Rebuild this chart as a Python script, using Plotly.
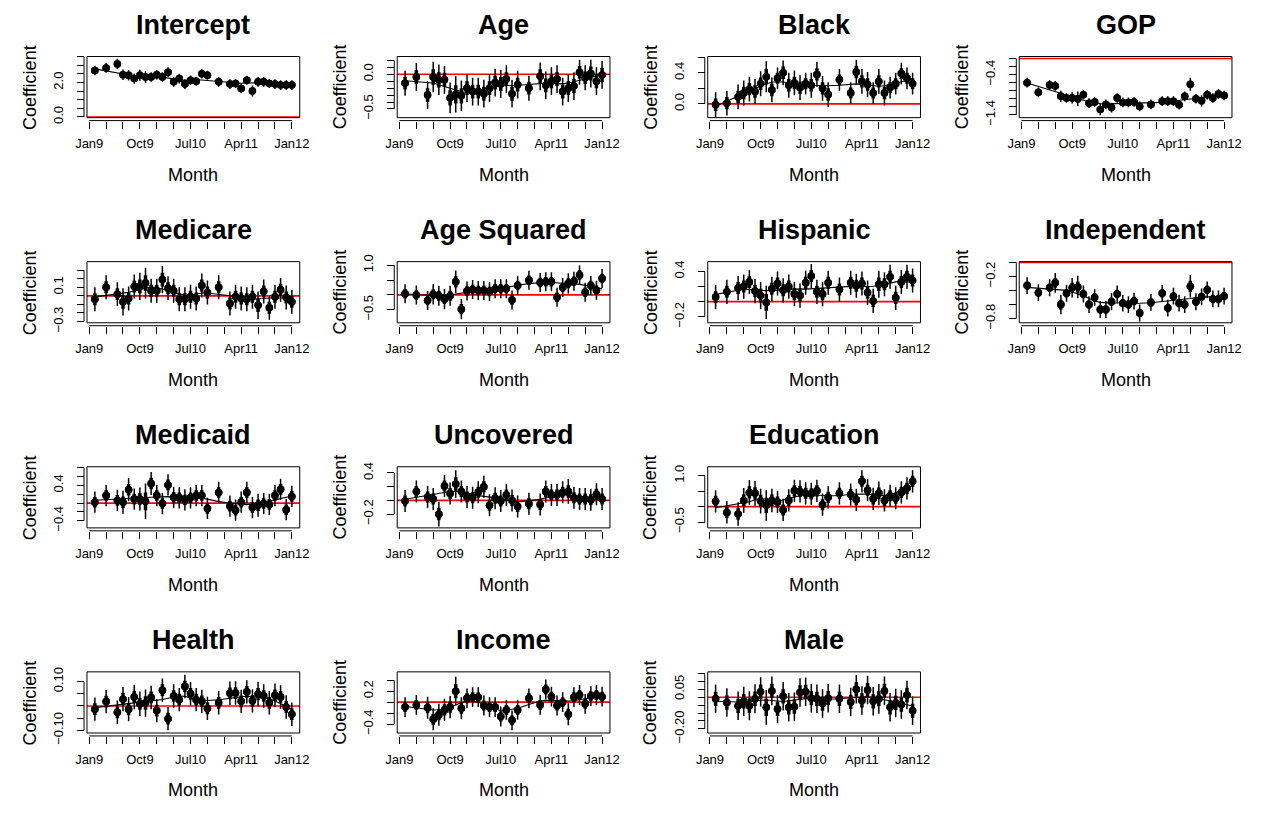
import numpy as np
import plotly.graph_objects as go

# ---------------------------------------------------------------- data
months = ["2009-02", "2009-04", "2009-06", "2009-07", "2009-08", "2009-09",
          "2009-10", "2009-11", "2009-12", "2010-01", "2010-02", "2010-03",
          "2010-04", "2010-05", "2010-06", "2010-07", "2010-08", "2010-09",
          "2010-10", "2010-12", "2011-02", "2011-03", "2011-04", "2011-05",
          "2011-06", "2011-07", "2011-08", "2011-09", "2011-10", "2011-11",
          "2011-12", "2012-01"]

x_tick_months = ["2009-01", "2009-04", "2009-07", "2009-10", "2010-01", "2010-04",
                 "2010-07", "2010-10", "2011-01", "2011-04", "2011-07", "2011-10",
                 "2012-01"]
x_tick_text = ["Jan9", "", "", "Oct9", "", "", "Jul10", "", "", "Apr11", "", "", "Jan12"]

intercept_coef = [2.70, 2.85, 3.08, 2.45, 2.42, 2.23, 2.42, 2.32, 2.32, 2.45, 2.32, 2.60,
                  2.04, 2.23, 1.91, 2.13, 2.08, 2.51, 2.42, 2.04, 1.91, 1.94, 1.66, 2.13,
                  1.51, 2.04, 2.04, 1.94, 1.91, 1.85, 1.85, 1.85]
intercept_se = [0.14, 0.14, 0.15, 0.15, 0.15, 0.15, 0.16, 0.17, 0.14, 0.14, 0.14, 0.14,
                0.14, 0.14, 0.14, 0.14, 0.13, 0.14, 0.13, 0.14, 0.14, 0.13, 0.14, 0.13,
                0.16, 0.14, 0.14, 0.13, 0.14, 0.14, 0.14, 0.14]

age_coef = [-0.13, -0.04, -0.30, -0.04, -0.08, -0.08, -0.34, -0.29, -0.31, -0.20, -0.25, -0.25,
            -0.28, -0.20, -0.12, -0.14, -0.07, -0.28, -0.15, -0.20, -0.03, -0.16, -0.10, -0.07,
            -0.25, -0.20, -0.17, 0.03, -0.05, 0.01, -0.10, -0.01]
age_se = [0.09, 0.10, 0.10, 0.11, 0.11, 0.10, 0.11, 0.13, 0.11, 0.10, 0.10, 0.10,
          0.10, 0.10, 0.10, 0.10, 0.10, 0.10, 0.10, 0.09, 0.10, 0.10, 0.10, 0.10,
          0.10, 0.10, 0.10, 0.09, 0.09, 0.10, 0.10, 0.10]

black_coef = [-0.01, 0.01, 0.09, 0.14, 0.19, 0.16, 0.26, 0.35, 0.18, 0.33, 0.40, 0.24,
              0.27, 0.21, 0.26, 0.24, 0.38, 0.20, 0.12, 0.31, 0.14, 0.41, 0.29, 0.25,
              0.14, 0.29, 0.14, 0.21, 0.26, 0.39, 0.33, 0.26]
black_se = [0.08, 0.08, 0.08, 0.08, 0.08, 0.08, 0.08, 0.10, 0.08, 0.07, 0.08, 0.08,
            0.08, 0.08, 0.07, 0.08, 0.08, 0.08, 0.08, 0.07, 0.07, 0.08, 0.08, 0.08,
            0.07, 0.08, 0.08, 0.07, 0.07, 0.07, 0.07, 0.07]

gop_coef = [-0.60, -0.84, -0.66, -0.68, -0.94, -0.98, -0.98, -1.00, -0.90, -1.11, -1.08, -1.27,
            -1.14, -1.22, -0.98, -1.09, -1.09, -1.08, -1.19, -1.14, -1.06, -1.06, -1.06, -1.15,
            -0.94, -0.64, -1.00, -1.05, -0.90, -0.98, -0.88, -0.92]
gop_se = [0.06, 0.06, 0.06, 0.06, 0.07, 0.06, 0.07, 0.09, 0.06, 0.06, 0.06, 0.07,
          0.06, 0.06, 0.06, 0.06, 0.06, 0.06, 0.06, 0.06, 0.06, 0.06, 0.06, 0.06,
          0.06, 0.08, 0.06, 0.07, 0.06, 0.06, 0.06, 0.06]

medicare_coef = [-0.04, 0.10, 0.02, -0.07, -0.03, 0.11, 0.11, 0.15, 0.06, 0.06, 0.19, 0.09,
                 0.06, -0.04, -0.04, -0.01, -0.03, 0.12, 0.04, 0.10, -0.09, -0.01, -0.03, -0.04,
                 -0.01, -0.11, 0.05, -0.14, -0.01, 0.07, -0.02, -0.07]
medicare_se = [0.07, 0.07, 0.07, 0.08, 0.07, 0.07, 0.08, 0.09, 0.07, 0.07, 0.08, 0.07,
               0.07, 0.07, 0.07, 0.07, 0.07, 0.07, 0.07, 0.07, 0.07, 0.07, 0.07, 0.07,
               0.07, 0.08, 0.07, 0.07, 0.07, 0.07, 0.07, 0.07]

age_sq_coef = [0.04, 0.00, -0.19, 0.02, -0.03, -0.14, -0.03, 0.44, -0.48, 0.13, 0.18, 0.15,
               0.15, 0.11, 0.21, 0.21, 0.21, -0.17, 0.32, 0.49, 0.42, 0.44, 0.44, -0.08,
               0.25, 0.39, 0.46, 0.67, 0.09, 0.32, 0.16, 0.55]
age_sq_se = [0.16, 0.16, 0.16, 0.17, 0.17, 0.17, 0.17, 0.19, 0.17, 0.16, 0.16, 0.16,
             0.16, 0.16, 0.16, 0.16, 0.16, 0.16, 0.16, 0.16, 0.16, 0.16, 0.16, 0.16,
             0.16, 0.17, 0.16, 0.16, 0.16, 0.16, 0.16, 0.16]

hispanic_coef = [0.06, 0.13, 0.18, 0.20, 0.26, 0.14, 0.08, -0.01, 0.17, 0.24, 0.15, 0.20,
                 0.10, 0.08, 0.25, 0.34, 0.13, 0.10, 0.25, 0.16, 0.25, 0.21, 0.24, 0.12,
                 0.01, 0.23, 0.23, 0.33, 0.05, 0.26, 0.33, 0.28]
hispanic_se = [0.08, 0.08, 0.08, 0.08, 0.08, 0.08, 0.09, 0.11, 0.08, 0.08, 0.08, 0.08,
               0.08, 0.08, 0.08, 0.08, 0.08, 0.08, 0.08, 0.08, 0.08, 0.08, 0.08, 0.08,
               0.08, 0.09, 0.08, 0.08, 0.08, 0.08, 0.08, 0.08]

independent_coef = [-0.33, -0.43, -0.36, -0.29, -0.60, -0.44, -0.36, -0.35, -0.45, -0.60, -0.50, -0.67,
                    -0.67, -0.56, -0.45, -0.58, -0.60, -0.55, -0.72, -0.57, -0.44, -0.65, -0.48, -0.58,
                    -0.60, -0.34, -0.56, -0.49, -0.39, -0.52, -0.52, -0.48]
independent_se = [0.06, 0.06, 0.06, 0.07, 0.07, 0.06, 0.07, 0.08, 0.06, 0.06, 0.06, 0.06,
                  0.06, 0.06, 0.06, 0.06, 0.06, 0.06, 0.06, 0.06, 0.06, 0.06, 0.06, 0.06,
                  0.06, 0.08, 0.06, 0.06, 0.06, 0.06, 0.06, 0.06]

medicaid_coef = [0.02, 0.17, 0.06, 0.02, 0.30, 0.09, 0.09, 0.04, 0.44, 0.17, -0.01, 0.41,
                 0.13, 0.12, 0.07, 0.12, 0.17, 0.17, -0.12, 0.24, -0.07, -0.16, 0.02, 0.24,
                 -0.10, -0.05, -0.01, -0.03, 0.17, 0.31, -0.15, 0.15]
medicaid_se = [0.12, 0.12, 0.12, 0.13, 0.13, 0.12, 0.13, 0.20, 0.13, 0.12, 0.12, 0.12,
               0.12, 0.12, 0.12, 0.12, 0.12, 0.12, 0.12, 0.12, 0.12, 0.12, 0.12, 0.12,
               0.12, 0.13, 0.12, 0.12, 0.12, 0.12, 0.12, 0.12]

uncovered_coef = [-0.01, 0.13, 0.05, 0.02, -0.20, 0.21, 0.10, 0.24, 0.13, 0.05, 0.04, 0.12,
                  0.20, -0.07, 0.03, -0.01, 0.08, 0.00, -0.09, -0.05, -0.06, 0.13, 0.08, 0.08,
                  0.12, 0.13, 0.04, 0.02, 0.02, 0.01, 0.09, 0.02]
uncovered_se = [0.08, 0.08, 0.08, 0.08, 0.09, 0.08, 0.08, 0.10, 0.08, 0.08, 0.08, 0.08,
                0.08, 0.08, 0.08, 0.08, 0.08, 0.08, 0.08, 0.08, 0.08, 0.08, 0.08, 0.08,
                0.08, 0.09, 0.08, 0.08, 0.08, 0.08, 0.08, 0.08]

education_coef = [0.17, -0.19, -0.24, 0.20, 0.46, 0.43, 0.18, 0.04, 0.20, 0.15, -0.11, 0.20,
                  0.51, 0.49, 0.43, 0.41, 0.51, 0.06, 0.30, 0.43, 0.39, 0.22, 0.82, 0.53,
                  0.25, 0.43, 0.20, 0.35, 0.27, 0.46, 0.59, 0.82]
education_se = [0.18, 0.18, 0.19, 0.20, 0.20, 0.20, 0.20, 0.25, 0.19, 0.18, 0.18, 0.18,
                0.18, 0.18, 0.18, 0.18, 0.18, 0.18, 0.18, 0.18, 0.18, 0.18, 0.18, 0.18,
                0.18, 0.19, 0.18, 0.18, 0.18, 0.18, 0.18, 0.18]

health_coef = [-0.013, 0.018, -0.026, 0.028, -0.013, 0.037, 0.009, 0.012, 0.035, -0.019, 0.065, -0.052,
               0.041, 0.026, 0.080, 0.050, 0.026, 0.019, -0.010, 0.013, 0.052, 0.053, 0.019, 0.058,
               0.021, 0.049, 0.041, 0.013, 0.044, 0.037, -0.004, -0.034]
health_se = [0.024, 0.024, 0.024, 0.025, 0.025, 0.025, 0.025, 0.028, 0.024, 0.024, 0.024, 0.024,
             0.024, 0.024, 0.024, 0.024, 0.024, 0.024, 0.024, 0.024, 0.024, 0.024, 0.024, 0.024,
             0.024, 0.025, 0.024, 0.024, 0.024, 0.024, 0.024, 0.024]

income_coef = [-0.09, -0.05, -0.10, -0.31, -0.23, -0.14, -0.09, 0.20, -0.11, 0.07, 0.09, 0.09,
               -0.06, -0.09, -0.09, -0.26, -0.14, -0.33, -0.14, 0.07, -0.05, 0.23, 0.10, -0.06,
               0.00, -0.22, 0.09, 0.13, -0.03, 0.11, 0.13, 0.10]
income_se = [0.09, 0.09, 0.10, 0.10, 0.10, 0.10, 0.10, 0.13, 0.10, 0.09, 0.09, 0.09,
             0.09, 0.09, 0.09, 0.09, 0.09, 0.09, 0.09, 0.09, 0.09, 0.09, 0.09, 0.09,
             0.09, 0.10, 0.09, 0.09, 0.09, 0.09, 0.09, 0.09]

male_coef = [-0.010, -0.034, -0.054, -0.026, -0.054, -0.010, 0.034, -0.064, 0.040, -0.074, 0.006, -0.064,
             -0.060, 0.030, 0.034, -0.006, -0.010, -0.040, -0.006, -0.010, -0.030, 0.050, -0.020, 0.046,
             -0.026, -0.010, 0.040, -0.064, -0.036, -0.046, 0.014, -0.086]
male_se = [0.045, 0.045, 0.045, 0.046, 0.046, 0.046, 0.046, 0.055, 0.045, 0.045, 0.045, 0.045,
           0.045, 0.045, 0.045, 0.045, 0.045, 0.045, 0.045, 0.045, 0.045, 0.045, 0.045, 0.045,
           0.045, 0.047, 0.045, 0.045, 0.045, 0.045, 0.045, 0.045]

# y-axis ticks: positions and the labels that are printed
intercept_ticks = [0.0, 0.5, 1.0, 1.5, 2.0, 2.5, 3.0, 3.5]
intercept_ticklabels = ["0.0", "", "", "", "2.0", "", "", ""]
age_ticks = [-0.5, -0.4, -0.3, -0.2, -0.1, 0.0, 0.1, 0.2]
age_ticklabels = ["\u22120.5", "", "", "", "", "0.0", "", ""]
black_ticks = [0.0, 0.2, 0.4, 0.6]
black_ticklabels = ["0.0", "", "0.4", ""]
gop_ticks = [-1.4, -1.2, -1.0, -0.8, -0.6, -0.4, -0.2, 0.0]
gop_ticklabels = ["\u22121.4", "", "", "", "", "\u22120.4", "", ""]
medicare_ticks = [-0.3, -0.2, -0.1, 0.0, 0.1, 0.2, 0.3]
medicare_ticklabels = ["\u22120.3", "", "", "", "0.1", "", ""]
age_sq_ticks = [-0.5, 0.0, 0.5, 1.0]
age_sq_ticklabels = ["\u22120.5", "", "", "1.0"]
hispanic_ticks = [-0.2, 0.0, 0.2, 0.4]
hispanic_ticklabels = ["\u22120.2", "", "", "0.4"]
independent_ticks = [-0.8, -0.6, -0.4, -0.2, 0.0]
independent_ticklabels = ["\u22120.8", "", "", "\u22120.2", ""]
medicaid_ticks = [-0.4, -0.2, 0.0, 0.2, 0.4, 0.6, 0.8]
medicaid_ticklabels = ["\u22120.4", "", "", "", "0.4", "", ""]
uncovered_ticks = [-0.2, 0.0, 0.2, 0.4]
uncovered_ticklabels = ["\u22120.2", "", "", "0.4"]
education_ticks = [-0.5, 0.0, 0.5, 1.0]
education_ticklabels = ["\u22120.5", "", "", "1.0"]
health_ticks = [-0.10, -0.05, 0.0, 0.05, 0.10]
health_ticklabels = ["\u22120.10", "", "", "", "0.10"]
income_ticks = [-0.4, -0.2, 0.0, 0.2, 0.4]
income_ticklabels = ["\u22120.4", "", "", "0.2", ""]
male_ticks = [-0.20, -0.15, -0.10, -0.05, 0.0, 0.05, 0.10, 0.15]
male_ticklabels = ["\u22120.20", "", "", "", "", "0.05", "", ""]

# -------------------------------------------------------------- layout
W, H = 1269, 817
COL_LEFT = [76.3, 392.0, 708.0, 1025.0]
BOX_W = 216.5
ROW_STEP = 210.0
BOX_TOP0 = 50.7
BOX_H = 62.6
AXIS_GAP = 3.0
FONT = "Liberation Sans, Arial, Helvetica, sans-serif"

panels = [
    ("Intercept", intercept_coef, intercept_se, intercept_ticks, intercept_ticklabels, (-0.04, 3.51), 0, 0),
    ("Age", age_coef, age_se, age_ticks, age_ticklabels, (-0.625, 0.255), 0, 1),
    ("Black", black_coef, black_se, black_ticks, black_ticklabels, (-0.177, 0.61), 0, 2),
    ("GOP", gop_coef, gop_se, gop_ticks, gop_ticklabels, (-1.47, 0.05), 0, 3),
    ("Medicare", medicare_coef, medicare_se, medicare_ticks, medicare_ticklabels, (-0.315, 0.40), 1, 0),
    ("Age Squared", age_sq_coef, age_sq_se, age_sq_ticks, age_sq_ticklabels, (-0.94, 1.12), 1, 1),
    ("Hispanic", hispanic_coef, hispanic_se, hispanic_ticks, hispanic_ticklabels, (-0.28, 0.53), 1, 2),
    ("Independent", independent_coef, independent_se, independent_ticks, independent_ticklabels, (-0.86, 0.012), 1, 3),
    ("Medicaid", medicaid_coef, medicaid_se, medicaid_ticks, medicaid_ticklabels, (-0.56, 0.82), 2, 0),
    ("Uncovered", uncovered_coef, uncovered_se, uncovered_ticks, uncovered_ticklabels, (-0.40, 0.49), 2, 1),
    ("Education", education_coef, education_se, education_ticks, education_ticklabels, (-0.69, 1.29), 2, 2),
    ("Health", health_coef, health_se, health_ticks, health_ticklabels, (-0.111, 0.14), 3, 0),
    ("Income", income_coef, income_se, income_ticks, income_ticklabels, (-0.56, 0.55), 3, 1),
    ("Male", male_coef, male_se, male_ticks, male_ticklabels, (-0.226, 0.16), 3, 2),
]


def month_index(label):
    year, month = label.split("-")
    return (int(year) - 2009) * 12 + int(month) - 1


def lowess(x, y, f=0.3, iters=3):
    """Robust locally weighted linear regression (Cleveland's LOWESS)."""
    x = np.asarray(x, float)
    y = np.asarray(y, float)
    n = len(x)
    r = max(min(int(np.ceil(f * n)), n), 2)
    robust = np.ones(n)
    fitted = np.zeros(n)
    for _ in range(iters + 1):
        for i in range(n):
            d = np.abs(x - x[i])
            h = max(np.sort(d)[r - 1], 1e-12)
            w = np.clip(d / h, 0, 1)
            w = (1 - w ** 3) ** 3 * robust
            sw = w.sum()
            xm_ = (w * x).sum() / sw
            ym_ = (w * y).sum() / sw
            sxx = (w * (x - xm_) ** 2).sum()
            b = (w * (x - xm_) * (y - ym_)).sum() / sxx if sxx > 1e-12 else 0.0
            fitted[i] = ym_ + b * (x[i] - xm_)
        res = y - fitted
        s = np.median(np.abs(res))
        if s == 0:
            break
        u = np.clip(res / (6 * s), -1, 1)
        robust = (1 - u ** 2) ** 2
    return fitted


xm = [month_index(m) for m in months]
x_tick_vals = [month_index(m) for m in x_tick_months]
x_pad = 0.04 * (max(xm) - min(xm))
x_range = [min(xm) - x_pad, max(xm) + x_pad]

fig = go.Figure()
layout = dict(
    width=W, height=H, margin=dict(l=0, r=0, t=0, b=0),
    paper_bgcolor="white", plot_bgcolor="white", showlegend=False,
    font=dict(family=FONT, color="black"),
)
shapes, annotations = [], []

for k, (title, coef, se, yt, ytl, yr, row, col) in enumerate(panels, start=1):
    sfx = "" if k == 1 else str(k)
    xa, ya = "x" + sfx, "y" + sfx
    left = COL_LEFT[col]
    right = left + BOX_W
    top = BOX_TOP0 + row * ROW_STEP
    bottom = top + BOX_H

    coef = np.asarray(coef)
    se = np.asarray(se)

    # smoothed trend
    fig.add_trace(go.Scatter(x=xm, y=lowess(xm, coef), mode="lines",
                             line=dict(color="black", width=1.1),
                             xaxis=xa, yaxis=ya, hoverinfo="skip"))
    # +-2 SE thin bars
    fig.add_trace(go.Scatter(x=xm, y=coef, mode="markers",
                             marker=dict(size=7.5, color="black"),
                             error_y=dict(type="data", array=2 * se, visible=True,
                                          thickness=1.5, width=0, color="black"),
                             xaxis=xa, yaxis=ya))
    # +-1 SE thick bars with the point estimate
    fig.add_trace(go.Scatter(x=xm, y=coef, mode="markers",
                             marker=dict(size=7.5, color="black"),
                             error_y=dict(type="data", array=se, visible=True,
                                          thickness=3.5, width=0, color="black"),
                             xaxis=xa, yaxis=ya))

    x_axis_pos = 1 - (bottom + AXIS_GAP) / H
    y_axis_pos = (left - AXIS_GAP) / W
    layout["xaxis" + sfx] = dict(
        domain=[left / W, right / W], anchor="free", position=x_axis_pos,
        range=x_range, tickmode="array", tickvals=x_tick_vals, ticktext=x_tick_text,
        ticks="outside", ticklen=7, tickwidth=1, tickcolor="black",
        showline=False, showgrid=False, zeroline=False,
        tickfont=dict(size=13, family=FONT, color="black"), ticklabelstandoff=4,
    )
    layout["yaxis" + sfx] = dict(
        domain=[1 - bottom / H, 1 - top / H], anchor="free", position=y_axis_pos,
        range=list(yr), tickmode="array", tickvals=yt, ticktext=ytl, tickangle=-90,
        ticks="outside", ticklen=7, tickwidth=1, tickcolor="black",
        showline=False, showgrid=False, zeroline=False,
        tickfont=dict(size=13, family=FONT, color="black"), ticklabelstandoff=9,
    )

    # plot box
    shapes.append(dict(type="rect", xref=xa + " domain", yref=ya + " domain",
                       x0=0, x1=1, y0=0, y1=1, line=dict(color="black", width=1)))
    # reference line at zero
    shapes.append(dict(type="line", xref=xa + " domain", yref=ya, x0=0, x1=1,
                       y0=0, y1=0, line=dict(color="red", width=1.6), layer="below"))
    # axis lines spanning first to last tick
    shapes.append(dict(type="line", xref=xa, yref="paper", x0=x_tick_vals[0],
                       x1=x_tick_vals[-1], y0=x_axis_pos, y1=x_axis_pos,
                       line=dict(color="black", width=1)))
    shapes.append(dict(type="line", xref="paper", yref=ya, x0=y_axis_pos,
                       x1=y_axis_pos, y0=yt[0], y1=yt[-1],
                       line=dict(color="black", width=1)))

    cx = (left + right) / 2 / W
    annotations.append(dict(text="<b>%s</b>" % title, x=cx, y=1 - (top - 32.5) / H,
                            xref="paper", yref="paper", showarrow=False,
                            xanchor="center", yanchor="middle",
                            font=dict(size=27, family=FONT, color="black")))
    annotations.append(dict(text="Month", x=cx, y=1 - (top + 121.0) / H,
                            xref="paper", yref="paper", showarrow=False,
                            xanchor="center", yanchor="middle",
                            font=dict(size=18, family=FONT, color="black")))
    annotations.append(dict(text="Coefficient", x=(left - 58) / W,
                            y=1 - (top + BOX_H / 2) / H, textangle=-90,
                            xref="paper", yref="paper", showarrow=False,
                            xanchor="center", yanchor="middle",
                            font=dict(size=18, family=FONT, color="black")))

layout["shapes"] = shapes
layout["annotations"] = annotations
fig.update_layout(**layout)
fig.write_html("out.html")
